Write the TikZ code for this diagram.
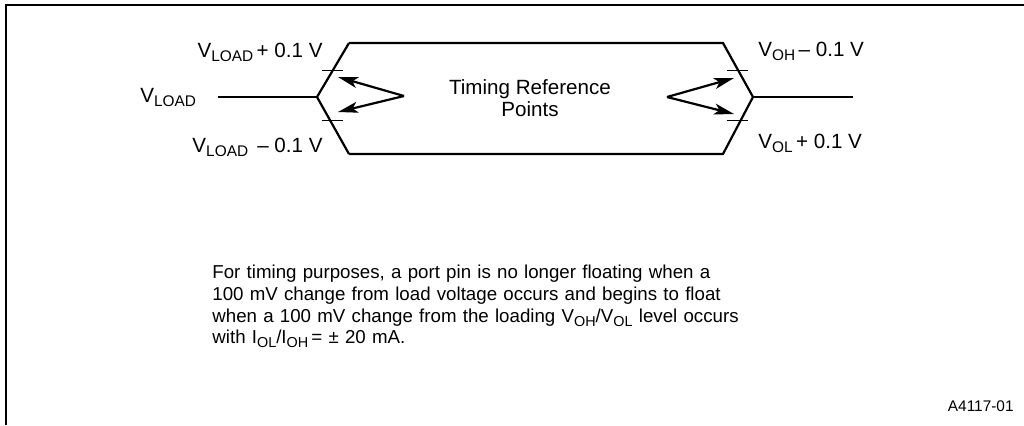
\documentclass[tikz,border=0pt]{standalone}
\usepackage{fontspec}
\setmainfont{Liberation Sans}
\usetikzlibrary{arrows.meta}
\newcommand\lsub[1]{\raisebox{-0.22em}{\fontsize{7.7}{9}\selectfont #1}}
\newcommand\psub[1]{\raisebox{-0.22em}{\fontsize{7.2}{9}\selectfont #1}}
\begin{document}
\begin{tikzpicture}[x=0.5pt,y=-0.5pt,
  wave/.style={line width=1.1pt,line join=miter},
  tick/.style={line width=0.7pt},
  ref/.style={line width=1.1pt,-{Stealth[length=10pt,width=5.5pt,inset=2.5pt]}},
  lbl/.style={inner sep=0pt,font=\fontsize{10.3}{12}\selectfont},
  para/.style={inner sep=0pt,font=\fontsize{9.35}{10.85}\selectfont,align=left,text width=300pt}]
\useasboundingbox (0,0) rectangle (1024,425);
\draw[line width=0.8pt] (6,425) -- (6,5) -- (1024,5);
% waveform
\coordinate (inL) at (218,97);
\coordinate (vL) at (317,97);
\coordinate (tL) at (349,43);
\coordinate (bL) at (349,154);
\coordinate (tR) at (723,43);
\coordinate (bR) at (723,154);
\coordinate (vR) at (753,97);
\coordinate (outR) at (853,97);
\draw[wave] (inL) -- (vL);
\draw[wave] (tL) -- (vL) -- (bL);
\draw[wave] (tL) -- (tR) -- (vR) -- (bR) -- (bL);
\draw[wave] (vR) -- (outR);
% ticks
\draw[tick] (322,70.5) coordinate (t1a) -- (343,70.5) coordinate (t1b);
\draw[tick] (322,120.5) coordinate (t2a) -- (343,120.5) coordinate (t2b);
\draw[tick] (727,70.5) coordinate (t3a) -- (748,70.5) coordinate (t3b);
\draw[tick] (727,120.5) coordinate (t4a) -- (748,120.5) coordinate (t4b);
% reference arrows
\coordinate (aL) at (404,96);
\coordinate (aLt) at (338,77);
\coordinate (aLb) at (338,112);
\coordinate (aR) at (667,97);
\coordinate (aRt) at (734,78);
\coordinate (aRb) at (734,114);
\draw[ref] (aL) -- (aLt);
\draw[ref] (aL) -- (aLb);
\draw[ref] (aR) -- (aRt);
\draw[ref] (aR) -- (aRb);
% labels
\node[lbl,anchor=base east] (l1) at (323,57) {V\lsub{LOAD}\,+ 0.1 V};
\node[lbl,anchor=base west] (l2) at (140,102) {V\lsub{LOAD}};
\node[lbl,anchor=base east] (l3) at (323,152) {V\lsub{LOAD} \,– 0.1 V};
\node[lbl,anchor=base] (l4) at (530,94) {Timing Reference};
\node[lbl,anchor=base] (l5) at (530,116.7) {Points};
\node[lbl,anchor=base west] (l6) at (758,56) {V\lsub{OH}\,– 0.1 V};
\node[lbl,anchor=base west] (l7) at (758,148) {V\lsub{OL}\,+ 0.1 V};
% paragraph
\node[para,anchor=base west] (p1) at (212,278) {For timing purposes, a port pin is no longer floating when a};
\node[para,anchor=base west] (p2) at (212,300) {100 mV change from load voltage occurs and begins to float};
\node[para,anchor=base west] (p3) at (212,322) {when a 100 mV change from the loading V\psub{OH}/V\psub{OL} level occurs};
\node[para,anchor=base west] (p4) at (212,343.5) {with I\psub{OL}/I\psub{OH}\,= ± 20 mA.};
\node[inner sep=0pt,anchor=base east,font=\fontsize{7.7}{9}\selectfont] (id) at (1014,411.7) {A4117-01};
\end{tikzpicture}
\end{document}
